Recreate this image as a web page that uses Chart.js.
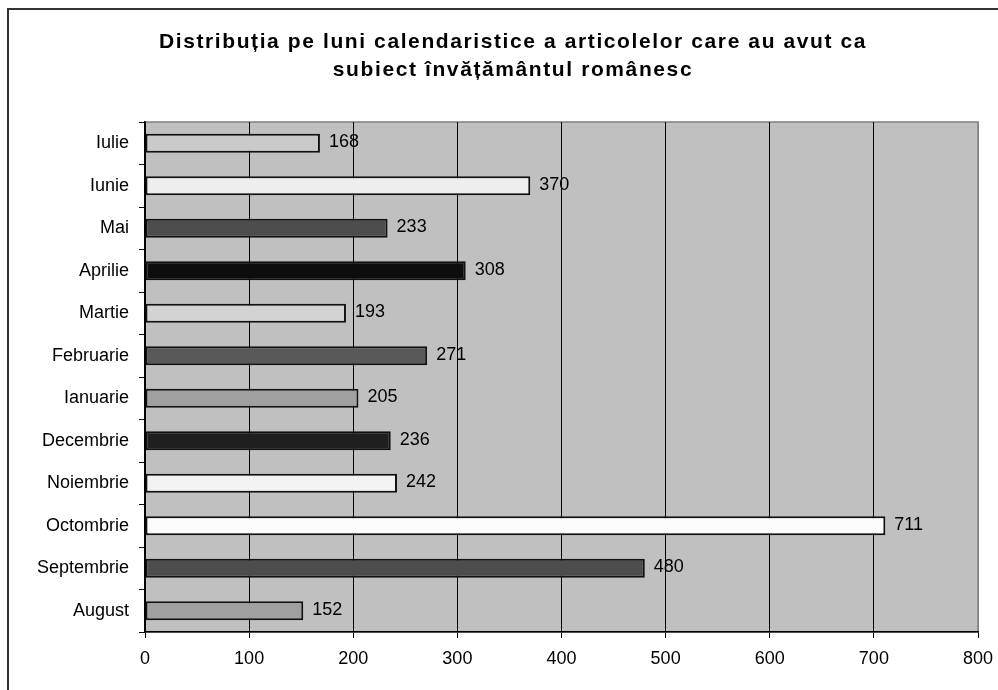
<!DOCTYPE html>
<html lang="ro">
<head>
<meta charset="utf-8">
<title>Distribuția pe luni calendaristice</title>
<script src="https://cdn.jsdelivr.net/npm/chart.js@4.4.1/dist/chart.umd.min.js"></script>
<style>
  html, body { margin: 0; padding: 0; background: #ffffff; }
  #wrap { position: relative; width: 998px; height: 690px; }
</style>
</head>
<body>
<div id="wrap"><canvas id="chart-months"></canvas></div>
<script>
// Month categories, top to bottom as in the source chart
const months = ['Iulie', 'Iunie', 'Mai', 'Aprilie', 'Martie', 'Februarie',
  'Ianuarie', 'Decembrie', 'Noiembrie', 'Octombrie', 'Septembrie', 'August'];
const articleCounts = [168, 370, 233, 308, 193, 271, 205, 236, 242, 711, 480, 152];
const barFills = ['#cacaca', '#eeeeee', '#4d4d4d', '#0d0d0d', '#d3d3d3', '#595959',
  '#a0a0a0', '#1f1f1f', '#f3f3f3', '#fcfcfc', '#4d4d4d', '#a0a0a0'];
const xTicks = [0, 100, 200, 300, 400, 500, 600, 700, 800];
const titleLines = [
  'Distribuția pe luni calendaristice a articolelor care au avut ca',
  'subiect învățământul românesc'
];

const FONT = '"Liberation Sans", Arial, sans-serif';

// Gray plot area, outer frame of the sheet and the two-line title
const plotBackground = {
  id: 'plotBackground',
  beforeDraw(chart) {
    const { ctx, chartArea: a } = chart;
    ctx.save();
    ctx.strokeStyle = '#333333';
    ctx.lineWidth = 2;
    ctx.strokeRect(8, 9, 1100, 800);
    ctx.fillStyle = '#c0c0c0';
    ctx.fillRect(a.left, a.top, a.right - a.left, a.bottom - a.top);
    ctx.strokeStyle = '#808080';
    ctx.lineWidth = 1.5;
    ctx.strokeRect(a.left, a.top, a.right - a.left, a.bottom - a.top);

    // title, centred on the sheet frame rather than on the canvas
    ctx.fillStyle = '#000000';
    ctx.font = 'bold 21px ' + FONT;
    ctx.letterSpacing = '1.6px';
    ctx.textAlign = 'center';
    ctx.textBaseline = 'alphabetic';
    titleLines.forEach((line, i) => {
      ctx.fillText(line, 513, 48 + i * 28);
    });
    ctx.restore();
  }
};

// Value written just past the end of every bar
const valueLabels = {
  id: 'valueLabels',
  afterDatasetsDraw(chart) {
    const { ctx } = chart;
    const meta = chart.getDatasetMeta(0);
    ctx.save();
    ctx.font = '18px ' + FONT;
    ctx.fillStyle = '#000000';
    ctx.textAlign = 'left';
    ctx.textBaseline = 'middle';
    meta.data.forEach((bar, i) => {
      ctx.fillText(String(articleCounts[i]), bar.x + 9, bar.y - 1);
    });
    ctx.restore();
  }
};

new Chart(document.getElementById('chart-months'), {
  type: 'bar',
  data: {
    labels: months,
    datasets: [{
      data: articleCounts,
      backgroundColor: barFills,
      borderColor: '#111111',
      borderWidth: 2,
      borderSkipped: false,
      barPercentage: 0.9,
      categoryPercentage: 0.5
    }]
  },
  options: {
    indexAxis: 'y',
    responsive: true,
    maintainAspectRatio: false,
    animation: false,
    layout: { padding: { top: 122, left: 0, right: 20, bottom: 0 } },
    plugins: {
      legend: { display: false },
      tooltip: { enabled: false },
      title: { display: false }
    },
    scales: {
      x: {
        min: 0,
        max: 800,
        afterBuildTicks(scale) {
          scale.ticks = xTicks.map(v => ({ value: v }));
        },
        afterFit(scale) {
          scale.height = 58;
          scale.paddingLeft = 0;
          scale.paddingRight = 0;
        },
        border: { display: true, color: '#000000', width: 1.5 },
        grid: {
          color: ctx => (ctx.index === xTicks.length - 1 ? '#808080' : '#000000'),
          tickColor: '#000000',
          lineWidth: 1,
          tickLength: 6
        },
        ticks: {
          color: '#000000',
          font: { family: FONT, size: 18 },
          padding: 10,
          maxRotation: 0
        }
      },
      y: {
        afterFit(scale) { scale.width = 145; },
        border: { display: true, color: '#000000', width: 1.5 },
        grid: {
          drawOnChartArea: false,
          offset: true,
          color: '#000000',
          tickLength: 6
        },
        ticks: {
          color: '#000000',
          font: { family: FONT, size: 18 },
          padding: 10
        }
      }
    }
  },
  plugins: [plotBackground, valueLabels]
});
</script>
</body>
</html>
